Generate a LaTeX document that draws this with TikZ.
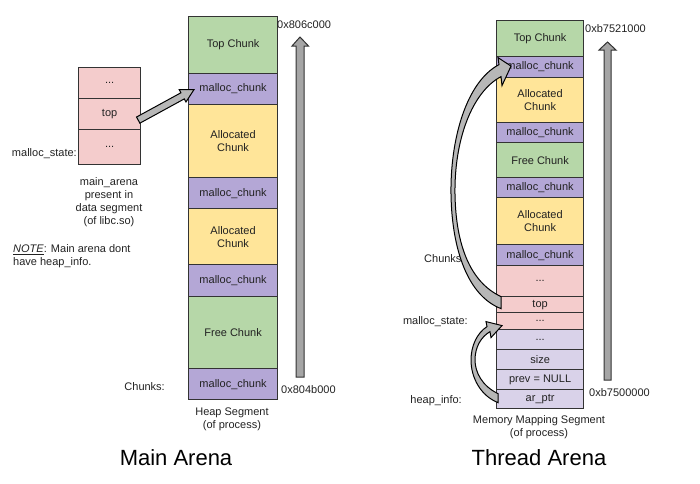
\documentclass[tikz,border=0pt]{standalone}
\usepackage{fontspec}
\setmainfont{Liberation Sans}
\usetikzlibrary{calc}
\definecolor{cgreen}{HTML}{B6D7A8}
\definecolor{cpurple}{HTML}{B4A7D6}
\definecolor{cyellow}{HTML}{FFE599}
\definecolor{cpink}{HTML}{F4CCCC}
\definecolor{clav}{HTML}{D9D2E9}
\definecolor{cborder}{HTML}{333333}
\definecolor{ctext}{HTML}{222222}
\definecolor{carrow}{HTML}{B7B7B7}
\begin{document}
\begin{tikzpicture}[x=1pt,y=-1pt,font=\fontsize{11}{13}\selectfont,
  cell/.style={draw=cborder,line width=1.2pt,inner sep=0pt,anchor=north west,
    minimum width=89pt,text=ctext,align=center},
  tcell/.style={cell,minimum width=87pt},
  lbl/.style={inner sep=0pt,text=ctext,align=center},
  blockarrow/.style={draw=black,line width=1pt,fill=carrow,line join=miter},
  uparrow/.style={draw=cborder,line width=1pt,fill=carrow!90!black}]
\useasboundingbox (0,0) rectangle (700,483);

% ---------------- Main arena ----------------
\node[cell,fill=cgreen,minimum height=57pt]  (m1) at (188,16)  {Top Chunk};
\node[cell,fill=cpurple,minimum height=31pt] (m2) at (188,73)  {malloc\_chunk};
\node[cell,fill=cyellow,minimum height=73pt] (m3) at (188,104) {Allocated\\Chunk};
\node[cell,fill=cpurple,minimum height=31pt] (m4) at (188,177) {malloc\_chunk};
\node[cell,fill=cyellow,minimum height=56pt] (m5) at (188,208) {Allocated\\Chunk};
\node[cell,fill=cpurple,minimum height=32pt] (m6) at (188,264) {malloc\_chunk};
\node[cell,fill=cgreen,minimum height=72pt]  (m7) at (188,296) {Free Chunk};
\node[cell,fill=cpurple,minimum height=31pt] (m8) at (188,368) {malloc\_chunk};

% main_arena malloc_state box
\node[cell,fill=cpink,minimum width=62pt,minimum height=31pt] (ms1) at (78,67) {...};
\node[cell,fill=cpink,minimum width=62pt,minimum height=31pt] (mtop) at (78,98) {top};
\node[cell,fill=cpink,minimum width=62pt,minimum height=35pt] (ms3) at (78,129) {...};

% labels
\node[lbl,anchor=west] (mhi) at (277,25) {0x806c000};
\node[lbl,anchor=west] (mlo) at (281,390) {0x804b000};
\node[lbl,anchor=east] (mchunks) at (165,387) {Chunks:};
\node[lbl,anchor=east] (mstate) at (77,154) {malloc\_state:};
\node[lbl] (mdesc) at (109,202.5) {main\_arena\\present in\\data segment\\(of libc.so)};
\node[lbl,anchor=north west,align=left] (mnote) at (13,244.5) {\underline{\textit{NOTE}}: Main arena dont\\have heap\_info.};
\node[lbl] (mseg) at (232,419.5) {Heap Segment\\(of process)};
\node[lbl,font=\fontsize{22}{26}\selectfont,text=black] (mtitle) at (176,458) {Main Arena};

% up arrow (main)
\draw[uparrow] (296,377) -- (296,46) -- (292,46) -- (300,37) -- (308.5,46) -- (304,46) -- (304,377) -- cycle;

% straight arrow top -> malloc_chunk
\coordinate (sa) at ($(mtop.east)+(-3,6)$);
\coordinate (sb) at ($(m2.west)+(6,0.5)$);
\coordinate (sh) at ($(sb)!13pt!(sa)$);
\draw[blockarrow] ($(sa)!3.5pt!90:(sb)$) -- ($(sh)!3.5pt!-90:(sa)$) -- ($(sh)!7pt!-90:(sa)$) -- (sb)
  -- ($(sh)!7pt!90:(sa)$) -- ($(sh)!3.5pt!90:(sa)$) -- ($(sa)!3.5pt!-90:(sb)$) -- cycle;

% ---------------- Thread arena ----------------
\node[tcell,fill=cgreen,minimum height=36pt]  (t1)  at (496,20)  {Top Chunk};
\node[tcell,fill=cpurple,minimum height=21pt] (t2)  at (496,56)  {malloc\_chunk};
\node[tcell,fill=cyellow,minimum height=45pt] (t3)  at (496,77)  {Allocated\\Chunk};
\node[tcell,fill=cpurple,minimum height=20pt] (t4)  at (496,122) {malloc\_chunk};
\node[tcell,fill=cgreen,minimum height=35pt]  (t5)  at (496,142) {Free Chunk};
\node[tcell,fill=cpurple,minimum height=20pt] (t6)  at (496,177) {malloc\_chunk};
\node[tcell,fill=cyellow,minimum height=47pt] (t7)  at (496,197) {Allocated\\Chunk};
\node[tcell,fill=cpurple,minimum height=21pt] (t8)  at (496,244) {malloc\_chunk};
\node[tcell,fill=cpink,minimum height=31pt]   (t9)  at (496,265) {...};
\node[tcell,fill=cpink,minimum height=16pt]   (t10) at (496,296) {top};
\node[tcell,fill=cpink,minimum height=17pt]   (t11) at (496,312) {...};
\node[tcell,fill=clav,minimum height=20pt]    (t12) at (496,329) {...};
\node[tcell,fill=clav,minimum height=20pt]    (t13) at (496,349) {size};
\node[tcell,fill=clav,minimum height=20pt]    (t14) at (496,369) {prev = NULL};
\node[tcell,fill=clav,minimum height=19pt]    (t15) at (496,389) {ar\_ptr};

% labels
\node[lbl,anchor=west] (thi) at (585,29) {0xb7521000};
\node[lbl,anchor=west] (tlo) at (589,393) {0xb7500000};
\node[lbl,anchor=west] (tchunks) at (424,259) {Chunks:};
\node[lbl,anchor=east] (tstate) at (468,322) {malloc\_state:};
\node[lbl,anchor=east] (tinfo) at (462,401) {heap\_info:};
\node[lbl] (tseg) at (539,427) {Memory Mapping Segment\\(of process)};
\node[lbl,font=\fontsize{22}{26}\selectfont,text=black] (ttitle) at (539,458) {Thread Arena};

% up arrow (thread)
\draw[uparrow] (604,380) -- (604,50) -- (599,50) -- (607.5,42) -- (616,50) -- (611,50) -- (611,380) -- cycle;

% curved arrow top -> malloc_chunk
\coordinate (bt1) at ($(t10.west)+(5,-8)$);
\coordinate (bt2) at ($(t10.west)+(5,4)$);
\coordinate (bh1) at ($(t2.west)+(3,-2.5)$);
\coordinate (bh2) at ($(t2.west)+(5,9.5)$);
\coordinate (bw1) at ($(t2.west)+(2,-9.5)$);
\coordinate (bw2) at ($(t2.west)+(6,18.5)$);
\coordinate (btip) at ($(t2.west)+(15,-1)$);
\draw[blockarrow] (bt1) .. controls (470,282) and (456,245) .. (455,195)
  .. controls (454,140) and (472,92) .. (bh2) -- (bw2) -- (btip) -- (bw1) -- (bh1)
  .. controls (466,82) and (450,140) .. (451,195)
  .. controls (452,250) and (468,296) .. (bt2) -- cycle;

% curved arrow ar_ptr -> malloc_state
\coordinate (st1) at ($(t15.west)+(2,-5.5)$);
\coordinate (st2) at ($(t15.west)+(2,3.5)$);
\coordinate (sh1) at ($(t11.west)+(-9,5.5)$);
\coordinate (sh2) at ($(t11.west)+(-6,10.5)$);
\coordinate (sw1) at ($(t11.west)+(-10,0.5)$);
\coordinate (sw2) at ($(t11.west)+(-5,16.5)$);
\coordinate (stip) at ($(t11.west)+(6,4.5)$);
\draw[blockarrow] (st1) .. controls (482,386) and (475,372) .. (475,360)
  .. controls (475,347) and (481,337) .. (sh2) -- (sw2) -- (stip) -- (sw1) -- (sh1)
  .. controls (477,333) and (471,346) .. (471,360)
  .. controls (471,378) and (481,396) .. (st2) -- cycle;
\end{tikzpicture}
\end{document}
